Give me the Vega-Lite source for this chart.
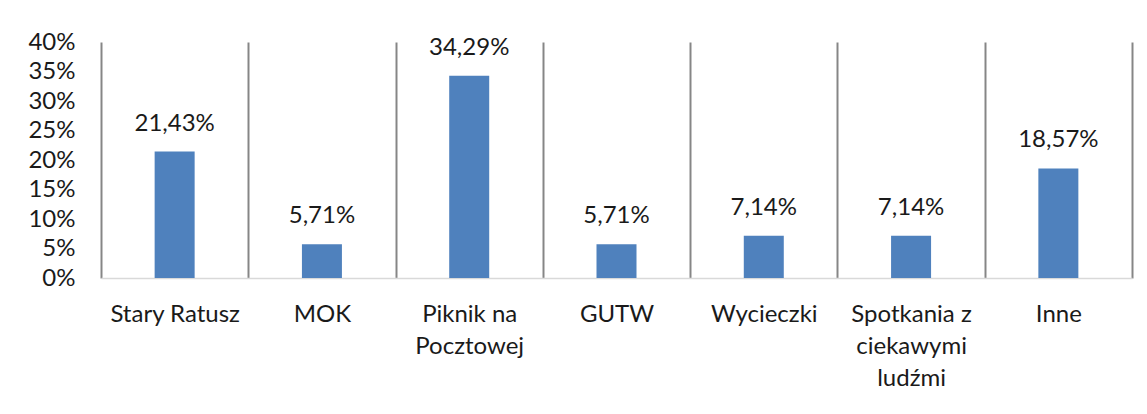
{
  "$schema": "https://vega.github.io/schema/vega-lite/v6.json",
  "autosize": {"type": "none"},
  "width": 1031,
  "height": 236,
  "padding": {"left": 101, "top": 42, "right": 15, "bottom": 136},
  "background": "white",
  "config": {
    "locale": {"number": {"decimal": ",", "thousands": " ", "grouping": [3], "currency": ["", " zł"]}},
    "view": {"stroke": null},
    "font": "Lato"
  },
  "data": {
    "values": [
      {"kategoria": "Stary Ratusz", "udzial": 0.2143},
      {"kategoria": "MOK", "udzial": 0.0571},
      {"kategoria": "Piknik na Pocztowej", "udzial": 0.3429},
      {"kategoria": "GUTW", "udzial": 0.0571},
      {"kategoria": "Wycieczki", "udzial": 0.0714},
      {"kategoria": "Spotkania z ciekawymi ludźmi", "udzial": 0.0714},
      {"kategoria": "Inne", "udzial": 0.1857}
    ]
  },
  "encoding": {
    "x": {
      "field": "kategoria",
      "type": "nominal",
      "sort": null,
      "scale": {"paddingInner": 0, "paddingOuter": 0},
      "axis": {
        "title": null,
        "labelAngle": 0,
        "labelFont": "Lato",
        "labelFontSize": 24,
        "labelColor": "#1a1a1a",
        "labelPadding": 24,
        "labelBaseline": "top",
        "labelLineHeight": 32,
        "labelExpr": "datum.label == 'Piknik na Pocztowej' ? ['Piknik na', 'Pocztowej'] : datum.label == 'Spotkania z ciekawymi ludźmi' ? ['Spotkania z', 'ciekawymi', 'ludźmi'] : datum.label",
        "ticks": false,
        "tickBand": "extent",
        "grid": true,
        "gridColor": "#868686",
        "gridWidth": 2,
        "domainColor": "#d9d9d9",
        "domainWidth": 1.5
      }
    },
    "y": {
      "field": "udzial",
      "type": "quantitative",
      "scale": {"domain": [0, 0.4], "nice": false},
      "axis": {
        "title": null,
        "format": ".0%",
        "values": [0, 0.05, 0.1, 0.15, 0.2, 0.25, 0.3, 0.35, 0.4],
        "labelFont": "Lato",
        "labelFontSize": 24,
        "labelColor": "#1a1a1a",
        "labelPadding": 26,
        "ticks": false,
        "grid": false,
        "domain": false
      }
    }
  },
  "layer": [
    {"mark": {"type": "bar", "size": 40, "color": "#4F81BD"}},
    {
      "mark": {"type": "text", "font": "Lato", "fontSize": 24, "color": "#1a1a1a", "baseline": "alphabetic", "dy": -21},
      "encoding": {"text": {"field": "udzial", "type": "quantitative", "format": ".2%"}}
    }
  ]
}
